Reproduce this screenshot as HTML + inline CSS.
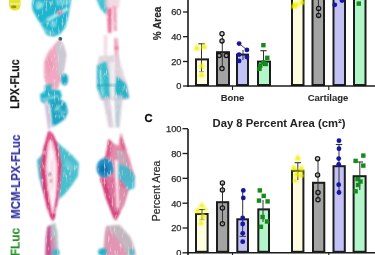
<!DOCTYPE html>
<html><head><meta charset="utf-8"><style>
html,body{margin:0;padding:0;background:#fff;width:375px;height:255px;overflow:hidden}
svg{display:block;font-family:"Liberation Sans", sans-serif}
</style></head><body>
<svg width="375" height="255" viewBox="0 0 375 255">
<defs>
<filter id="b1" x="-30%" y="-30%" width="160%" height="160%"><feGaussianBlur stdDeviation="1"/></filter>
<filter id="b07" x="-50%" y="-50%" width="200%" height="200%"><feGaussianBlur stdDeviation="0.85"/></filter>
<filter id="b05" x="-30%" y="-30%" width="160%" height="160%"><feGaussianBlur stdDeviation="0.5"/></filter>
<filter id="tex" x="0" y="0" width="100%" height="100%" filterUnits="userSpaceOnUse"><feTurbulence type="fractalNoise" baseFrequency="0.5 0.14" numOctaves="2" seed="7" result="n"/><feColorMatrix in="n" type="matrix" values="0 0 0 0 1  0 0 0 0 1  0 0 0 0 1  0 0 0 -1.5 0.62" result="w"/><feComposite in="w" in2="SourceGraphic" operator="in" result="wm"/><feMerge result="m"><feMergeNode in="SourceGraphic"/><feMergeNode in="wm"/></feMerge><feGaussianBlur in="m" stdDeviation="0.45"/></filter>
<filter id="bc" x="-10%" y="-10%" width="120%" height="120%"><feGaussianBlur stdDeviation="0.35"/></filter>
</defs>
<g id="chartTop" filter="url(#bc)">
<rect x="196.00" y="59.40" width="12.00" height="25.60" fill="#fffde0" stroke="#1a1a1a" stroke-width="2.0"/>
<rect x="217.00" y="52.20" width="12.00" height="32.80" fill="#a3a3a3" stroke="#1a1a1a" stroke-width="2.0"/>
<rect x="237.00" y="54.60" width="11.00" height="30.40" fill="#c2c2f7" stroke="#1a1a1a" stroke-width="2.0"/>
<rect x="258.00" y="61.60" width="12.00" height="23.40" fill="#b2f5c8" stroke="#1a1a1a" stroke-width="2.0"/>
<rect x="292.00" y="-4.00" width="11.50" height="89.00" fill="#fffde0" stroke="#1a1a1a" stroke-width="2.0"/>
<rect x="312.50" y="-4.00" width="11.50" height="89.00" fill="#a3a3a3" stroke="#1a1a1a" stroke-width="2.0"/>
<rect x="333.50" y="-4.00" width="11.50" height="89.00" fill="#c2c2f7" stroke="#1a1a1a" stroke-width="2.0"/>
<rect x="354.00" y="-4.00" width="11.50" height="89.00" fill="#b2f5c8" stroke="#1a1a1a" stroke-width="2.0"/>
<line x1="201.5" y1="43.8" x2="201.5" y2="71.7" stroke="#333" stroke-width="1"/>
<line x1="198.3" y1="43.8" x2="204.7" y2="43.8" stroke="#333" stroke-width="1.1"/>
<line x1="199" y1="71.7" x2="204" y2="71.7" stroke="#888" stroke-width="0.9"/>
<polygon points="193.4,50.3 200.2,50.3 196.8,44.0" fill="#eef000" filter="url(#b07)"/>
<polygon points="200.6,48.8 207.4,48.8 204.0,42.5" fill="#eef000" filter="url(#b07)"/>
<polygon points="198.3,68.1 204.7,68.1 201.5,62.3" fill="#eef000" filter="url(#b07)"/>
<polygon points="198.3,77.1 204.7,77.1 201.5,71.3" fill="#eef000" filter="url(#b07)"/>
<line x1="222.3" y1="35" x2="222.3" y2="68" stroke="#333" stroke-width="1"/>
<circle cx="222" cy="33.7" r="2.1" fill="#b0b0b0" fill-opacity="0.5" stroke="#161616" stroke-width="1.3"/>
<circle cx="222" cy="40.9" r="2.1" fill="#b0b0b0" fill-opacity="0.5" stroke="#161616" stroke-width="1.3"/>
<circle cx="219.2" cy="55.6" r="2.1" fill="#b0b0b0" fill-opacity="0.5" stroke="#161616" stroke-width="1.3"/>
<circle cx="226.3" cy="55.6" r="2.1" fill="#b0b0b0" fill-opacity="0.5" stroke="#161616" stroke-width="1.3"/>
<circle cx="222" cy="68.6" r="2.1" fill="#b0b0b0" fill-opacity="0.5" stroke="#161616" stroke-width="1.3"/>
<line x1="243" y1="50" x2="243" y2="60" stroke="#333" stroke-width="1"/>
<line x1="239.1" y1="43.6" x2="246.9" y2="49.9" stroke="#333" stroke-width="0.9"/>
<circle cx="239.1" cy="43.6" r="2.4" fill="#1414a0"/>
<circle cx="246.9" cy="49.9" r="2.4" fill="#1414a0"/>
<circle cx="239.1" cy="54.6" r="2.4" fill="#1414a0"/>
<circle cx="246.9" cy="57" r="2.4" fill="#1414a0"/>
<circle cx="239.1" cy="60.9" r="2.4" fill="#1414a0"/>
<line x1="263.5" y1="50.7" x2="263.5" y2="66" stroke="#333" stroke-width="1"/>
<line x1="260.3" y1="50.7" x2="266.7" y2="50.7" stroke="#333" stroke-width="1.1"/>
<rect x="261.2" y="43.0" width="4.4" height="4.4" fill="#128a1c"/>
<rect x="265.1" y="55.599999999999994" width="4.4" height="4.4" fill="#128a1c"/>
<rect x="261.2" y="60.3" width="4.4" height="4.4" fill="#128a1c"/>
<rect x="263.6" y="61.8" width="4.4" height="4.4" fill="#128a1c"/>
<rect x="258.1" y="63.39999999999999" width="4.4" height="4.4" fill="#128a1c"/>
<rect x="257.3" y="66.6" width="4.4" height="4.4" fill="#128a1c"/>
<polygon points="290.3,8.3 297.7,8.3 294.0,1.7" fill="#eef000" filter="url(#b07)"/>
<polygon points="293.5,6.4 299.5,6.4 296.5,1.0" fill="#eef000" filter="url(#b07)"/>
<polygon points="298.6,4.3 305.4,4.3 302.0,-1.9" fill="#eef000" filter="url(#b07)"/>
<line x1="318.4" y1="-2" x2="318.4" y2="18" stroke="#333" stroke-width="1"/>
<circle cx="318.6" cy="8.4" r="2.1" fill="#b0b0b0" fill-opacity="0.5" stroke="#161616" stroke-width="1.3"/>
<circle cx="318.6" cy="15.4" r="2.1" fill="#b0b0b0" fill-opacity="0.5" stroke="#161616" stroke-width="1.3"/>
<circle cx="334.8" cy="4.8" r="2.4" fill="#1414a0"/>
<circle cx="342" cy="0.5" r="2.4" fill="#1414a0"/>
<rect x="356.6" y="1.4" width="4.4" height="4.4" fill="#128a1c"/>
<line x1="188" y1="0" x2="188" y2="86.9" stroke="#1a1a1a" stroke-width="1.6"/>
<line x1="187.2" y1="86" x2="375" y2="86" stroke="#1a1a1a" stroke-width="1.6"/>
<line x1="183" y1="12" x2="188" y2="12" stroke="#1a1a1a" stroke-width="1.3"/>
<text x="181.5" y="15.3" text-anchor="end" font-size="9.3" fill="#2a2a2a" stroke="#2a2a2a" stroke-width="0.25">60</text>
<line x1="183" y1="36.7" x2="188" y2="36.7" stroke="#1a1a1a" stroke-width="1.3"/>
<text x="181.5" y="40.0" text-anchor="end" font-size="9.3" fill="#2a2a2a" stroke="#2a2a2a" stroke-width="0.25">40</text>
<line x1="183" y1="61.5" x2="188" y2="61.5" stroke="#1a1a1a" stroke-width="1.3"/>
<text x="181.5" y="64.8" text-anchor="end" font-size="9.3" fill="#2a2a2a" stroke="#2a2a2a" stroke-width="0.25">20</text>
<line x1="183" y1="86" x2="188" y2="86" stroke="#1a1a1a" stroke-width="1.3"/>
<text x="181.5" y="89.3" text-anchor="end" font-size="9.3" fill="#2a2a2a" stroke="#2a2a2a" stroke-width="0.25">0</text>
<line x1="232.5" y1="86" x2="232.5" y2="90" stroke="#1a1a1a" stroke-width="1.1"/>
<line x1="328.8" y1="86" x2="328.8" y2="90" stroke="#1a1a1a" stroke-width="1.1"/>
<text x="232.5" y="101" text-anchor="middle" font-size="9.5" font-weight="bold" fill="#2a2a2a" stroke="#2a2a2a" stroke-width="0.05">Bone</text>
<text x="328" y="100.8" text-anchor="middle" font-size="9.5" font-weight="bold" fill="#2a2a2a" stroke="#2a2a2a" stroke-width="0.05">Cartilage</text>
<text transform="translate(160.5,23.5) rotate(-90)" text-anchor="middle" font-size="10" font-weight="bold" fill="#2a2a2a" stroke="#2a2a2a" stroke-width="0.2">% Area</text>
</g>
<g id="chartBot" filter="url(#bc)">
<rect x="196.00" y="214.00" width="11.60" height="37.80" fill="#fffde0" stroke="#1a1a1a" stroke-width="2.0"/>
<rect x="217.00" y="202.20" width="11.20" height="49.60" fill="#a3a3a3" stroke="#1a1a1a" stroke-width="2.0"/>
<rect x="237.30" y="219.30" width="10.70" height="32.50" fill="#c2c2f7" stroke="#1a1a1a" stroke-width="2.0"/>
<rect x="258.30" y="209.40" width="10.70" height="42.40" fill="#b2f5c8" stroke="#1a1a1a" stroke-width="2.0"/>
<rect x="292.00" y="170.80" width="11.40" height="81.00" fill="#fffde0" stroke="#1a1a1a" stroke-width="2.0"/>
<rect x="313.00" y="182.80" width="11.30" height="69.00" fill="#a3a3a3" stroke="#1a1a1a" stroke-width="2.0"/>
<rect x="333.50" y="166.20" width="11.30" height="85.60" fill="#c2c2f7" stroke="#1a1a1a" stroke-width="2.0"/>
<rect x="353.60" y="176.20" width="12.00" height="75.60" fill="#b2f5c8" stroke="#1a1a1a" stroke-width="2.0"/>
<line x1="202" y1="209.5" x2="202" y2="219.7" stroke="#333" stroke-width="1"/>
<line x1="198.8" y1="209.5" x2="205.2" y2="209.5" stroke="#333" stroke-width="1.1"/>
<line x1="199.5" y1="219.7" x2="204.5" y2="219.7" stroke="#999" stroke-width="0.9"/>
<polygon points="198.6,207.6 205.0,207.6 201.8,201.8" fill="#eef000" filter="url(#b07)"/>
<polygon points="194.4,212.9 200.8,212.9 197.6,207.1" fill="#eef000" filter="url(#b07)"/>
<polygon points="199.6,218.4 206.4,218.4 203.0,212.2" fill="#eef000" filter="url(#b07)"/>
<polygon points="198.0,225.0 204.0,225.0 201.0,219.6" fill="#eef000" filter="url(#b07)"/>
<polygon points="203.0,211.0 208.0,211.0 205.5,206.5" fill="#eef000" filter="url(#b07)"/>
<line x1="222.5" y1="183" x2="222.5" y2="224" stroke="#333" stroke-width="1"/>
<circle cx="222.4" cy="183" r="2.1" fill="#b0b0b0" fill-opacity="0.5" stroke="#161616" stroke-width="1.3"/>
<circle cx="222.4" cy="190" r="2.1" fill="#b0b0b0" fill-opacity="0.5" stroke="#161616" stroke-width="1.3"/>
<circle cx="222.4" cy="208" r="2.1" fill="#b0b0b0" fill-opacity="0.5" stroke="#161616" stroke-width="1.3"/>
<circle cx="222.4" cy="223.7" r="2.1" fill="#b0b0b0" fill-opacity="0.5" stroke="#161616" stroke-width="1.3"/>
<line x1="242.7" y1="190" x2="242.7" y2="236.4" stroke="#333" stroke-width="1"/>
<line x1="239.5" y1="236.4" x2="246" y2="236.4" stroke="#333" stroke-width="0.9"/>
<circle cx="243.3" cy="190.4" r="2.4" fill="#1414a0"/>
<circle cx="243.3" cy="197.9" r="2.4" fill="#1414a0"/>
<circle cx="242.7" cy="218" r="2.4" fill="#1414a0"/>
<circle cx="242.7" cy="224" r="2.4" fill="#1414a0"/>
<circle cx="242.7" cy="233.3" r="2.4" fill="#1414a0"/>
<circle cx="242.7" cy="241.7" r="2.4" fill="#1414a0"/>
<line x1="263" y1="200" x2="263" y2="222" stroke="#333" stroke-width="1"/>
<rect x="257.6" y="188.20000000000002" width="4.4" height="4.4" fill="#128a1c"/>
<rect x="261.5" y="193.70000000000002" width="4.4" height="4.4" fill="#128a1c"/>
<rect x="265.40000000000003" y="199.20000000000002" width="4.4" height="4.4" fill="#128a1c"/>
<rect x="256.8" y="198.4" width="4.4" height="4.4" fill="#128a1c"/>
<rect x="260.40000000000003" y="214.8" width="4.4" height="4.4" fill="#128a1c"/>
<rect x="264.8" y="219.3" width="4.4" height="4.4" fill="#128a1c"/>
<rect x="258.7" y="224.60000000000002" width="4.4" height="4.4" fill="#128a1c"/>
<line x1="297.8" y1="162.7" x2="297.8" y2="180" stroke="#333" stroke-width="1"/>
<line x1="294.6" y1="162.7" x2="301.0" y2="162.7" stroke="#333" stroke-width="1.1"/>
<polygon points="294.4,160.3 301.2,160.3 297.8,154.1" fill="#eef000" filter="url(#b07)"/>
<polygon points="290.4,170.2 297.3,170.2 293.9,164.0" fill="#eef000" filter="url(#b07)"/>
<polygon points="297.9,171.0 304.8,171.0 301.4,164.8" fill="#eef000" filter="url(#b07)"/>
<polygon points="293.2,176.5 300.1,176.5 296.6,170.2" fill="#eef000" filter="url(#b07)"/>
<polygon points="298.2,177.1 304.6,177.1 301.4,171.3" fill="#eef000" filter="url(#b07)"/>
<polygon points="292.2,182.2 297.8,182.2 295.0,177.2" fill="#eef000" filter="url(#b07)"/>
<line x1="318" y1="159" x2="318" y2="200" stroke="#333" stroke-width="1"/>
<circle cx="317.6" cy="158.8" r="2.1" fill="#b0b0b0" fill-opacity="0.5" stroke="#161616" stroke-width="1.3"/>
<circle cx="317.6" cy="175" r="2.1" fill="#b0b0b0" fill-opacity="0.5" stroke="#161616" stroke-width="1.3"/>
<circle cx="318" cy="192.5" r="2.1" fill="#b0b0b0" fill-opacity="0.5" stroke="#161616" stroke-width="1.3"/>
<circle cx="318" cy="199.7" r="2.1" fill="#b0b0b0" fill-opacity="0.5" stroke="#161616" stroke-width="1.3"/>
<line x1="339" y1="144.5" x2="339" y2="193" stroke="#333" stroke-width="1"/>
<line x1="335.8" y1="144.5" x2="342.2" y2="144.5" stroke="#333" stroke-width="1.1"/>
<circle cx="339" cy="140.7" r="2.4" fill="#1414a0"/>
<circle cx="339" cy="148.7" r="2.4" fill="#1414a0"/>
<circle cx="338.7" cy="158.6" r="2.4" fill="#1414a0"/>
<circle cx="338.7" cy="164.5" r="2.4" fill="#1414a0"/>
<circle cx="338.7" cy="184.7" r="2.4" fill="#1414a0"/>
<circle cx="339" cy="192.5" r="2.4" fill="#1414a0"/>
<line x1="359.8" y1="162" x2="359.8" y2="190" stroke="#333" stroke-width="1"/>
<line x1="356.6" y1="162" x2="363.0" y2="162" stroke="#333" stroke-width="1.1"/>
<rect x="361.1" y="153.4" width="4.4" height="4.4" fill="#128a1c"/>
<rect x="353.40000000000003" y="158.70000000000002" width="4.4" height="4.4" fill="#128a1c"/>
<rect x="361.1" y="163.4" width="4.4" height="4.4" fill="#128a1c"/>
<rect x="355.3" y="177.0" width="4.4" height="4.4" fill="#128a1c"/>
<rect x="358.3" y="179.3" width="4.4" height="4.4" fill="#128a1c"/>
<rect x="355.8" y="182.8" width="4.4" height="4.4" fill="#128a1c"/>
<rect x="353.40000000000003" y="189.10000000000002" width="4.4" height="4.4" fill="#128a1c"/>
<line x1="188" y1="129" x2="188" y2="255" stroke="#1a1a1a" stroke-width="1.6"/>
<line x1="187.2" y1="252.8" x2="375" y2="252.8" stroke="#1a1a1a" stroke-width="1.6"/>
<line x1="182.5" y1="128.7" x2="188" y2="128.7" stroke="#1a1a1a" stroke-width="1.3"/>
<text x="181.5" y="132.0" text-anchor="end" font-size="9.3" fill="#2a2a2a" stroke="#2a2a2a" stroke-width="0.25">100</text>
<line x1="182.5" y1="153.5" x2="188" y2="153.5" stroke="#1a1a1a" stroke-width="1.3"/>
<text x="181.5" y="156.8" text-anchor="end" font-size="9.3" fill="#2a2a2a" stroke="#2a2a2a" stroke-width="0.25">80</text>
<line x1="182.5" y1="178.3" x2="188" y2="178.3" stroke="#1a1a1a" stroke-width="1.3"/>
<text x="181.5" y="181.6" text-anchor="end" font-size="9.3" fill="#2a2a2a" stroke="#2a2a2a" stroke-width="0.25">60</text>
<line x1="182.5" y1="203.2" x2="188" y2="203.2" stroke="#1a1a1a" stroke-width="1.3"/>
<text x="181.5" y="206.5" text-anchor="end" font-size="9.3" fill="#2a2a2a" stroke="#2a2a2a" stroke-width="0.25">40</text>
<line x1="182.5" y1="228.0" x2="188" y2="228.0" stroke="#1a1a1a" stroke-width="1.3"/>
<text x="181.5" y="231.3" text-anchor="end" font-size="9.3" fill="#2a2a2a" stroke="#2a2a2a" stroke-width="0.25">20</text>
<line x1="182.5" y1="252.8" x2="188" y2="252.8" stroke="#1a1a1a" stroke-width="1.3"/>
<text x="181.5" y="256.1" text-anchor="end" font-size="9.3" fill="#2a2a2a" stroke="#2a2a2a" stroke-width="0.25">0</text>
<line x1="232.5" y1="252.8" x2="232.5" y2="257" stroke="#1a1a1a" stroke-width="1.1"/>
<line x1="328.8" y1="252.8" x2="328.8" y2="257" stroke="#1a1a1a" stroke-width="1.1"/>
<text transform="translate(160,191) rotate(-90)" text-anchor="middle" font-size="10.5" fill="#2a2a2a" stroke="#2a2a2a" stroke-width="0.2">Percent Area</text>
<text x="144.6" y="122.3" font-size="11.2" font-weight="bold" fill="#111" stroke="#111" stroke-width="0.3">C</text>
<text x="212.5" y="127.2" font-size="11" font-weight="bold" fill="#222" textLength="133" lengthAdjust="spacingAndGlyphs">Day 8 Percent Area (cm²)</text>
</g>
<g id="histo" filter="url(#tex)">
<polygon points="33,-2 71,-2 70,6 68,18 65,28 60,34 54,36.5 47,35 44,29 38,20 32.5,10 32,4" fill="#1eb6ce" opacity="1.0" filter="url(#b1)"/>
<ellipse cx="39" cy="5" rx="3.5" ry="4" fill="#9fe0e8" opacity="0.75" filter="url(#b1)"/>
<polygon points="46,19 67,7 69,10 48,22" fill="#c8eef2" opacity="0.9" filter="url(#b1)"/>
<polygon points="55,-2 71,-2 69,5 57,6" fill="#7ed6e2" opacity="0.7" filter="url(#b1)"/>
<ellipse cx="59.7" cy="12.3" rx="2.2" ry="2.6" fill="#e2568a" opacity="0.9" filter="url(#b1)"/>
<ellipse cx="53.5" cy="24" rx="3" ry="3.5" fill="#9adce6" opacity="0.75" filter="url(#b1)"/>
<polygon points="42,27 52,31 58,34 50,36 45,33" fill="#7fd0de" opacity="0.6" filter="url(#b1)"/>
<ellipse cx="60.3" cy="39" rx="1.9" ry="1.9" fill="#2a5a60" opacity="1" filter="url(#b05)"/>
<polygon points="58.8,39.7 63,44 66,55 64,68 61,80 58,88 47,88 44,77 44,62 48,52 54,45" fill="#f2a8c0" opacity="1.0" filter="url(#b1)"/>
<polygon points="58.8,39.7 63,44 66,55 64,68 61,78 58,74 57,58 56,46" fill="#c5ccd6" opacity="0.9" filter="url(#b1)"/>
<polygon points="46,62 50,55 53,64 49,76" fill="#e890b0" opacity="0.6" filter="url(#b1)"/>
<ellipse cx="64.5" cy="79.5" rx="3.6" ry="6" fill="#1ca8c4" opacity="1.0" filter="url(#b1)"/>
<polygon points="44,86 52,84 53,95 45,96" fill="#20b2c8" opacity="0.9" filter="url(#b1)"/>
<polygon points="52,84 58,86 56,95 51,96" fill="#e9b0c6" opacity="0.8" filter="url(#b1)"/>
<polygon points="40,94 48,90 60,90 62,96 58,102 48,104 41,102" fill="#22b4cc" opacity="1.0" filter="url(#b1)"/>
<polygon points="49.6,102 58,98 66,103 68,112 65,119 58,124 52,127 51,114" fill="#1aa6c2" opacity="1.0" filter="url(#b1)"/>
<polygon points="44,100 48,100 51,118 50.5,129 48,129" fill="#c8bcd4" opacity="0.9" filter="url(#b1)"/>
<polygon points="56,106 64,112 63,114 55,108" fill="#78d2de" opacity="0.7" filter="url(#b1)"/>
<polygon points="41,99 58,95 58,97 42,101" fill="#a8e2ea" opacity="0.7" filter="url(#b1)"/>
<polygon points="54,110 60,104 61,106 55,112" fill="#c0eaf0" opacity="0.7" filter="url(#b1)"/>
<polygon points="57,116 66,110 66,112 58,118" fill="#90dae4" opacity="0.6" filter="url(#b1)"/>
<polygon points="36,8 44,2 45,4 37,10" fill="#b8e8ee" opacity="0.6" filter="url(#b1)"/>
<polygon points="40,24 50,16 51,18 41,26" fill="#7ed2de" opacity="0.5" filter="url(#b1)"/>
<polygon points="96,-2 107,-2 107.5,8 106,15 100,8" fill="#3cc3d2" opacity="1.0" filter="url(#b1)"/>
<polygon points="104,-2 120,-2 119,8 105,8" fill="#f0c8d6" opacity="0.7" filter="url(#b1)"/>
<polygon points="106.7,8 112,8 111.5,33 108,33" fill="#e8769c" opacity="1.0" filter="url(#b1)"/>
<polygon points="112.5,6 116.5,6 117,31 113.5,31" fill="#f0a4bc" opacity="1.0" filter="url(#b1)"/>
<polygon points="103.5,35 107.5,35 107,58 104,58" fill="#f2cad8" opacity="0.7" filter="url(#b1)"/>
<polygon points="114,38 118,38 119,76 115,76" fill="#e89ab4" opacity="0.85" filter="url(#b1)"/>
<ellipse cx="116.5" cy="48" rx="2" ry="2" fill="#e87098" opacity="0.8" filter="url(#b1)"/>
<polygon points="99,56 118,55 122,68 127,84 129.5,97 127,100 100,100 97,88 97,66" fill="#ddd2da" opacity="0.9" filter="url(#b1)"/>
<polygon points="97,66 106,61 109,75 110,98 103,100 97,88" fill="#34bece" opacity="1.0" filter="url(#b1)"/>
<polygon points="99,70 101,69 104,95 102,96" fill="#d8f0f4" opacity="0.6" filter="url(#b1)"/>
<polygon points="117,76 126,84 129,98 116,99 114,88" fill="#2ab4c8" opacity="1.0" filter="url(#b1)"/>
<polygon points="110,62 115,62 115,98 111,98" fill="#f4f2f4" opacity="0.8" filter="url(#b1)"/>
<polygon points="97,84.5 115,84.5 115,86.2 97,86.2" fill="#1a98b0" opacity="0.7" filter="url(#b1)"/>
<polygon points="102.5,97 110,97 113.6,127.5 108.7,127.5" fill="#d4c6d4" opacity="0.85" filter="url(#b1)"/>
<polygon points="114,95 123,95 119.5,127.5 115.6,127.5" fill="#c8cad6" opacity="0.85" filter="url(#b1)"/>
<polygon points="116.5,105 118.5,105 118,127 116.5,127" fill="#9cc8cc" opacity="0.7" filter="url(#b1)"/>
<polygon points="53,139 64,148 72,155 79,163 78,176 72,185 65,194 58.3,200 59,175 57,153" fill="#48c0ce" opacity="1.0" filter="url(#b1)"/>
<polygon points="66,158 74,166 72,172 64,166" fill="#8ad6e0" opacity="0.5" filter="url(#b1)"/>
<polygon points="37,160 44,153 46,176 49,196 45,196 39,178" fill="#44b4c6" opacity="0.95" filter="url(#b1)"/>
<polygon points="48.5,131 54,138 59,150 61,165 60,185 57.5,203 52.5,221 47,206 43,186 41,168 44,148" fill="#f2c4d4" opacity="1.0" filter="url(#b1)"/>
<polygon points="48.5,131 50.5,132 47,148 45,168 47,188 51,208 52.5,221 47,208 42.5,188 40.7,168 43.5,148" fill="#d42a6c" opacity="0.95" filter="url(#b1)"/>
<polygon points="49.5,131 53,134 58,146 61.5,165 60,186 57,205 52.5,221 55,203 57.5,184 58,165 55,148" fill="#d42a6c" opacity="0.95" filter="url(#b1)"/>
<polygon points="48.5,133 52,135 53,150 50,150" fill="#e04a80" opacity="0.9" filter="url(#b1)"/>
<polygon points="49,142 52,140 55.5,165 55.5,195 52.5,214 50,196 47.5,168" fill="#fdf6f8" opacity="0.95" filter="url(#b1)"/>
<polygon points="51,160 52.5,160 53,190 51.5,190" fill="#eaa0b8" opacity="0.5" filter="url(#b1)"/>
<ellipse cx="49.5" cy="174.3" rx="1.2" ry="1.8" fill="#5a2050" opacity="0.8" filter="url(#b1)"/>
<ellipse cx="51" cy="181" rx="1" ry="1.4" fill="#5a2050" opacity="0.6" filter="url(#b1)"/>
<polygon points="49.9,214 56.2,214 53,221.3" fill="#d02c6e" opacity="1.0" filter="url(#b1)"/>
<polygon points="47.5,227 55,222.5 57.5,232 58,244 59,256 45.5,256 46,238" fill="#b4c2c8" opacity="1.0" filter="url(#b1)"/>
<polygon points="47.5,227 50.5,225 51,240 52,256 45.5,256 46,238" fill="#d2408a" opacity="0.9" filter="url(#b1)"/>
<polygon points="51,238 54,236 56,256 52,256" fill="#e070a0" opacity="0.6" filter="url(#b1)"/>
<ellipse cx="55.5" cy="252.5" rx="4" ry="3" fill="#30b8c8" opacity="0.9" filter="url(#b1)"/>
<ellipse cx="121" cy="135" rx="2" ry="1.5" fill="#e8a0b8" opacity="0.6" filter="url(#b1)"/>
<polygon points="108.7,138.8 113,143 118.5,145.7 120,138 121.5,134.9 123.4,141.8 129.3,157.5 134,175 132,182 100,182 100,168 105.8,155.5" fill="#e58aa8" opacity="1.0" filter="url(#b1)"/>
<polygon points="108.7,138.8 112,143 110,156 104,160 105.8,155.5" fill="#d8407a" opacity="0.75" filter="url(#b1)"/>
<polygon points="121,135 123.4,141.8 126,150 122.5,150 120,140" fill="#d8507e" opacity="0.7" filter="url(#b1)"/>
<polygon points="116,150 124,152 129,168 118,170" fill="#b8b4c0" opacity="0.75" filter="url(#b1)"/>
<ellipse cx="105" cy="168" rx="8.5" ry="10" fill="#2490c4" opacity="1.0" filter="url(#b1)"/>
<ellipse cx="104" cy="169" rx="4" ry="4.5" fill="#0a68a8" opacity="0.8" filter="url(#b1)"/>
<polygon points="119,164 128,167 135,176 134.5,188 127,191 120,184 116,175" fill="#44b8cc" opacity="0.95" filter="url(#b1)"/>
<polygon points="100.8,179 112,177 121,180 128.3,190.7 124,205 117.5,217.2 116,221 113.6,217.2 106,198" fill="#e0709a" opacity="1.0" filter="url(#b1)"/>
<polygon points="100.8,179 106,180 111,200 116,221 113.6,217.2 106,198" fill="#cc3070" opacity="0.8" filter="url(#b1)"/>
<polygon points="120,186 127,190 124,205 119,212" fill="#d8a8bc" opacity="0.6" filter="url(#b1)"/>
<polygon points="114.5,160 118,160 119,208 116.5,208" fill="#fdf4f6" opacity="0.95" filter="url(#b1)"/>
<polygon points="112.3,212 120.1,212 116.2,219" fill="#d03a70" opacity="0.8" filter="url(#b1)"/>
<polygon points="106,226 119.5,224.5 130.5,237 134,246 136,256 103.6,256 105,235" fill="#c4b6be" opacity="1.0" filter="url(#b1)"/>
<polygon points="105,235 107,227 122,244 127,256 103.6,256" fill="#e88eb0" opacity="0.8" filter="url(#b1)"/>
<ellipse cx="102.5" cy="252" rx="4.5" ry="4" fill="#2cb0c8" opacity="1.0" filter="url(#b1)"/>
<ellipse cx="131.5" cy="252" rx="3" ry="3" fill="#40b8cc" opacity="0.8" filter="url(#b1)"/>
</g>
<text transform="translate(19.2,84) rotate(-90) scale(0.88,1)" text-anchor="middle" font-size="12" font-weight="bold" fill="#111" stroke="#111" stroke-width="0.2" filter="url(#bc)">LPX-FLuc</text>
<text transform="translate(20,176.7) rotate(-90) scale(0.95,1)" text-anchor="middle" font-size="12" font-weight="bold" fill="#2e2ea0" stroke="#2e2ea0" stroke-width="0.15" filter="url(#bc)">MCM-LPX-FLuc</text>
<text transform="translate(19.6,242) rotate(-90) scale(0.99,1)" text-anchor="middle" font-size="12" font-weight="bold" fill="#289028" stroke="#289028" stroke-width="0.15" filter="url(#bc)">FLuc</text>
<path d="M9,-2 L20.5,-2 L20.5,5 Q20.5,10.4 15,10.4 Q9,10.4 9,5 Z" fill="#e6e432" filter="url(#b05)"/>
<rect x="10" y="3" width="10" height="1.6" fill="#f2f2a0" opacity="0.8" filter="url(#b05)"/>
<ellipse cx="13.8" cy="6.7" rx="2.8" ry="1.5" fill="#8a8a1c" opacity="0.85" filter="url(#b05)"/>
</svg>
</body></html>
